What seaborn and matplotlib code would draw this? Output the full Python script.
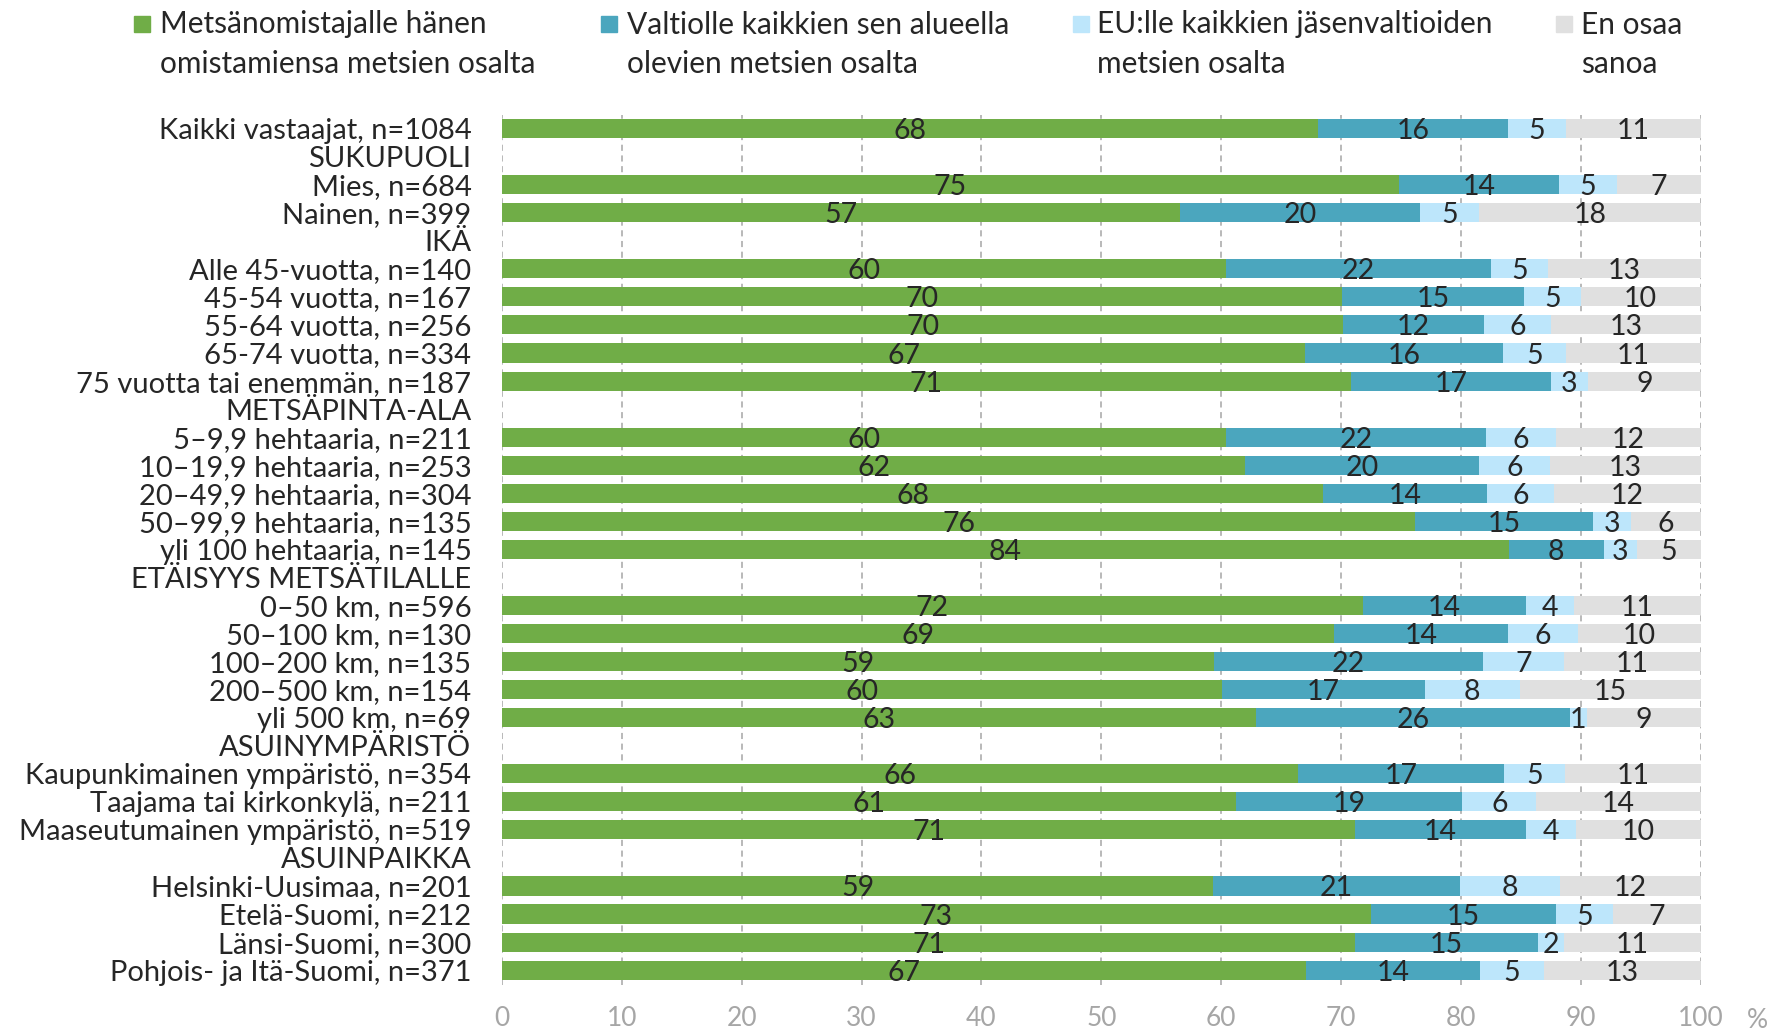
import numpy as np
import pandas as pd
import matplotlib
matplotlib.use("Agg")
import matplotlib.pyplot as plt
import seaborn as sns
from matplotlib.patches import Rectangle

# ---------- Data ----------
rows = [
    "Kaikki vastaajat, n=1084",
    "SUKUPUOLI",
    "Mies, n=684",
    "Nainen, n=399",
    "IKÄ",
    "Alle 45-vuotta, n=140",
    "45-54 vuotta, n=167",
    "55-64 vuotta, n=256",
    "65-74 vuotta, n=334",
    "75 vuotta tai enemmän, n=187",
    "METSÄPINTA-ALA",
    "5–9,9 hehtaaria, n=211",
    "10–19,9 hehtaaria, n=253",
    "20–49,9 hehtaaria, n=304",
    "50–99,9 hehtaaria, n=135",
    "yli 100 hehtaaria, n=145",
    "ETÄISYYS METSÄTILALLE",
    "0–50 km, n=596",
    "50–100 km, n=130",
    "100–200 km, n=135",
    "200–500 km, n=154",
    "yli 500 km, n=69",
    "ASUINYMPÄRISTÖ",
    "Kaupunkimainen ympäristö, n=354",
    "Taajama tai kirkonkylä, n=211",
    "Maaseutumainen ympäristö, n=519",
    "ASUINPAIKKA",
    "Helsinki-Uusimaa, n=201",
    "Etelä-Suomi, n=212",
    "Länsi-Suomi, n=300",
    "Pohjois- ja Itä-Suomi, n=371",
]
headers = ["SUKUPUOLI", "IKÄ", "METSÄPINTA-ALA", "ETÄISYYS METSÄTILALLE",
           "ASUINYMPÄRISTÖ", "ASUINPAIKKA"]
groups = [r for r in rows if r not in headers]

# bar widths (%)
owner = [68.1, 74.8, 56.6, 60.4, 70.1, 70.2, 67.0, 70.8, 60.4, 62.0, 68.5, 76.2, 84.0,
         71.8, 69.4, 59.4, 60.1, 62.9, 66.4, 61.2, 71.2, 59.3, 72.5, 71.2, 67.1]
state = [15.8, 13.4, 20.0, 22.1, 15.2, 11.7, 16.5, 16.7, 21.7, 19.5, 13.7, 14.8, 7.9,
         13.6, 14.5, 22.4, 16.9, 26.2, 17.2, 18.9, 14.2, 20.6, 15.4, 15.2, 14.5]
eu = [4.9, 4.8, 4.9, 4.8, 4.7, 5.6, 5.3, 3.1, 5.8, 5.9, 5.6, 3.2, 2.8,
      4.0, 5.9, 6.8, 7.9, 1.4, 5.1, 6.2, 4.2, 8.4, 4.8, 2.2, 5.3]
dontknow = [11.2, 7.0, 18.5, 12.7, 10.0, 12.5, 11.2, 9.4, 12.1, 12.6, 12.2, 5.8, 5.3,
            10.6, 10.2, 11.4, 15.1, 9.5, 11.3, 13.7, 10.4, 11.7, 7.3, 11.4, 13.1]

# printed labels
owner_lbl = [68, 75, 57, 60, 70, 70, 67, 71, 60, 62, 68, 76, 84,
             72, 69, 59, 60, 63, 66, 61, 71, 59, 73, 71, 67]
state_lbl = [16, 14, 20, 22, 15, 12, 16, 17, 22, 20, 14, 15, 8,
             14, 14, 22, 17, 26, 17, 19, 14, 21, 15, 15, 14]
eu_lbl = [5, 5, 5, 5, 5, 6, 5, 3, 6, 6, 6, 3, 3,
          4, 6, 7, 8, 1, 5, 6, 4, 8, 5, 2, 5]
dontknow_lbl = [11, 7, 18, 13, 10, 13, 11, 9, 12, 13, 12, 6, 5,
                11, 10, 11, 15, 9, 11, 14, 10, 12, 7, 11, 13]

series = [
    "Metsänomistajalle hänen\nomistamiensa metsien osalta",
    "Valtiolle kaikkien sen alueella\nolevien metsien osalta",
    "EU:lle kaikkien jäsenvaltioiden\nmetsien osalta",
    "En osaa\nsanoa",
]
ticks = [0, 10, 20, 30, 40, 50, 60, 70, 80, 90, 100]

# ---------- Theme ----------
sns.set_style("white")
plt.rcParams["font.family"] = ["Lato", "DejaVu Sans"]
TEXT = "#262626"
GREEN = "#70AD47"
TEAL = "#4BA6BE"
LIGHT = "#BDE6FB"
GREY = "#E0E0E0"
colors = [GREEN, TEAL, LIGHT, GREY]

W, H = 1769, 1029
fig = plt.figure(figsize=(W / 100, H / 100), dpi=100)
ax = fig.add_axes([502 / W, 1 - 985 / H, 1198.7 / W, 870 / H])

df = pd.DataFrame({"ryhma": groups, "s1": owner, "s2": state, "s3": eu, "s4": dontknow})
df["c1"] = df["s1"]
df["c2"] = df["c1"] + df["s2"]
df["c3"] = df["c2"] + df["s3"]
df["c4"] = df["c3"] + df["s4"]

# stacked look: draw cumulative totals, largest first
for col, color in zip(["c4", "c3", "c2", "c1"], colors[::-1]):
    sns.barplot(data=df, y="ryhma", x=col, order=rows, color=color, saturation=1,
                width=0.68, orient="h", errorbar=None, linewidth=0, ax=ax)

# ---------- Value labels ----------
labels = [owner_lbl, state_lbl, eu_lbl, dontknow_lbl]
for i, g in enumerate(groups):
    y = rows.index(g)
    start = 0
    for k in range(4):
        w = df.loc[i, f"s{k + 1}"]
        ax.text(start + w / 2, y, str(labels[k][i]), ha="center", va="center_baseline",
                fontsize=20.5, color=TEXT)
        start += w

# ---------- Axes ----------
ax.set_xlim(0, 100)
ax.set_ylim(30.53, -0.485)
ax.set_xticks(ticks)
ax.set_xlabel("")
ax.set_ylabel("")
ax.xaxis.grid(True, color="#A6A6A6", linestyle=(0, (4, 3)), linewidth=1.1)
ax.set_axisbelow(True)
for s in ax.spines.values():
    s.set_visible(False)
ax.tick_params(axis="x", length=0, pad=15, labelsize=19, labelcolor="#A6A6A6")
ax.tick_params(axis="y", length=0, pad=22, labelsize=21, labelcolor=TEXT)
fig.text(1757 / W, 1 - 1020 / H, "%", ha="center", va="center", fontsize=19, color="#A6A6A6")

# ---------- Legend ----------
sq_x = [134, 601, 1073, 1556]
tx_x = [160, 627, 1097, 1581]
for k in range(4):
    fig.patches.append(Rectangle((sq_x[k] / W, 1 - 32 / H), 16 / W, 16 / H,
                                 transform=fig.transFigure, color=colors[k]))
    for j, line in enumerate(series[k].split("\n")):
        fig.text(tx_x[k] / W, 1 - (24.5 + 39.5 * j) / H, line, ha="left", va="center",
                 fontsize=21.5, color=TEXT)

fig.savefig("out.png", dpi=100)
